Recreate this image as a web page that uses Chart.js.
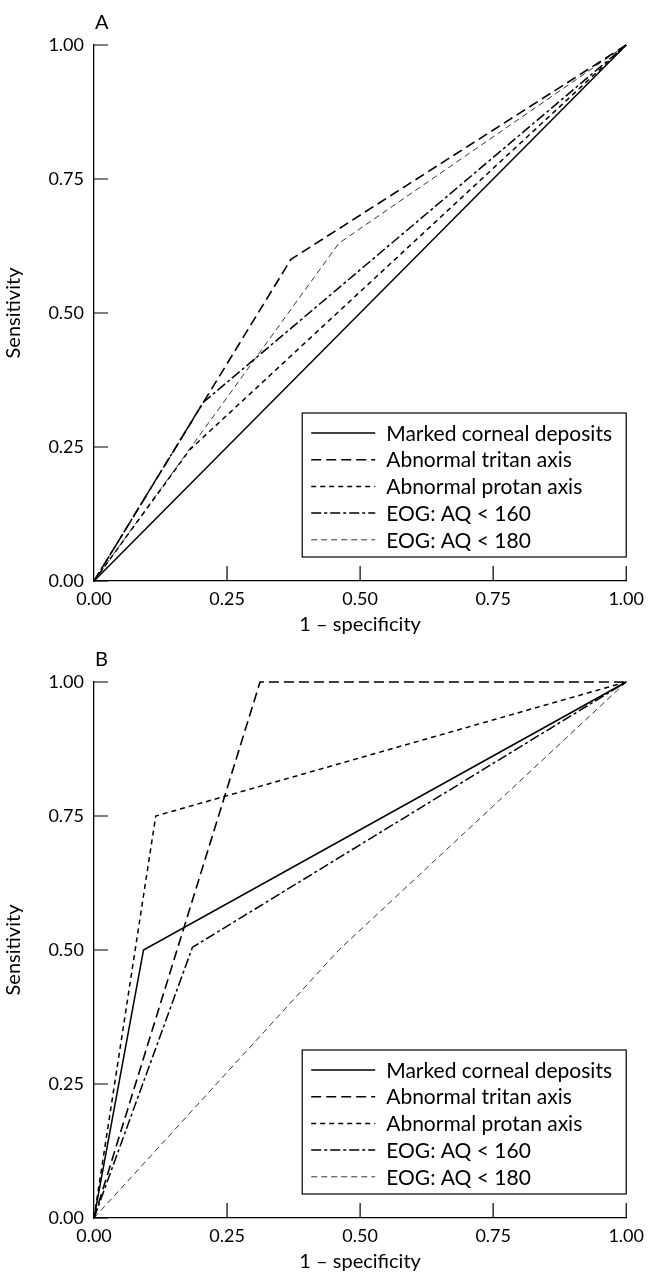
<!DOCTYPE html>
<html lang="en">
<head>
    <meta charset="UTF-8">
    <title>ROC curves</title>
    <script src="https://cdn.jsdelivr.net/npm/chart.js"></script>
    <style>
        body { margin: 0; background: #fff; }
        canvas { display: block; }
    </style>
</head>
<body>
<canvas id="chartA" width="651" height="637"></canvas>
<canvas id="chartB" width="651" height="637"></canvas>

<script>
    // series names and axis ticks
    var seriesLabels = ['Marked corneal deposits', 'Abnormal tritan axis', 'Abnormal protan axis', 'EOG: AQ < 160', 'EOG: AQ < 180'];
    var tickValues = [0, 0.25, 0.5, 0.75, 1];

    // panel A: 1 - specificity (x) and sensitivity (y)
    var cornealAx = [0, 1],            cornealAy = [0, 1];
    var tritanAx  = [0, 0.37, 1],      tritanAy  = [0, 0.60, 1];
    var protanAx  = [0, 0.18, 1],      protanAy  = [0, 0.245, 1];
    var eog160Ax  = [0, 0.205, 1],     eog160Ay  = [0, 0.333, 1];
    var eog180Ax  = [0, 0.46, 1],      eog180Ay  = [0, 0.63, 1];

    // panel B
    var cornealBx = [0, 0.093, 1],     cornealBy = [0, 0.50, 1];
    var tritanBx  = [0, 0.312, 1],     tritanBy  = [0, 1.0, 1];
    var protanBx  = [0, 0.116, 1],     protanBy  = [0, 0.75, 1];
    var eog160Bx  = [0, 0.185, 1],     eog160By  = [0, 0.505, 1];
    var eog180Bx  = [0, 0.46, 1],      eog180By  = [0, 0.50, 1];

    var FONT = 'Lato, "DejaVu Sans", sans-serif';

    // line look for each series
    var styles = [
        { w: 1.5, dash: [] },
        { w: 1.6, dash: [10, 5] },
        { w: 1.5, dash: [5, 4] },
        { w: 1.5, dash: [10, 3, 3, 3] },
        { w: 0.8, dash: [6, 4] }
    ];

    // ticks pointing into the plot area
    var innerTicks = {
        id: 'innerTicks',
        afterDraw: function(chart) {
            var c = chart.ctx, a = chart.chartArea;
            var xs = chart.scales.x, ys = chart.scales.y;
            c.save();
            c.strokeStyle = '#000';
            c.lineWidth = 1.2;
            c.beginPath();
            tickValues.forEach(function(v) {
                var py = ys.getPixelForValue(v);
                c.moveTo(a.left, py); c.lineTo(a.left + 14, py);
                var px = xs.getPixelForValue(v);
                if (v > 0) { c.moveTo(px, a.bottom); c.lineTo(px, a.bottom - 15); }
            });
            c.stroke();
            // panel letter
            c.fillStyle = '#000';
            c.font = '20px ' + FONT;
            c.textBaseline = 'alphabetic';
            c.fillText(chart.options.plugins.panelLetter, a.left + 1, a.top - 16);
            c.restore();
        }
    };

    // boxed legend in the lower right corner
    var boxLegend = {
        id: 'boxLegend',
        afterDraw: function(chart) {
            var c = chart.ctx, a = chart.chartArea;
            var w = 324, h = 144;
            var left = a.right - w, top = a.bottom - 24 - h;
            c.save();
            c.strokeStyle = '#000';
            c.lineWidth = 1.2;
            c.strokeRect(left, top, w, h);
            c.font = '21px ' + FONT;
            c.textBaseline = 'middle';
            c.fillStyle = '#000';
            chart.data.datasets.forEach(function(ds, i) {
                var y = top + 20 + i * 26.7;
                c.beginPath();
                c.lineWidth = ds.borderWidth;
                c.setLineDash(ds.borderDash);
                c.moveTo(left + 9, y); c.lineTo(left + 73, y);
                c.stroke();
                c.setLineDash([]);
                c.fillText(ds.label, left + 84, y + 1);
            });
            c.restore();
        }
    };

    function makeChart(id, letter, xs, ys) {
        var datasets = seriesLabels.map(function(label, i) {
            return {
                label: label,
                data: xs[i].map(function(x, j) { return { x: x, y: ys[i][j] }; }),
                borderColor: '#000',
                borderWidth: styles[i].w,
                borderDash: styles[i].dash,
                pointRadius: 0,
                fill: false,
                tension: 0,
                clip: false
            };
        });
        return new Chart(document.getElementById(id), {
            type: 'line',
            data: { datasets: datasets },
            options: {
                responsive: false,
                animation: false,
                layout: { padding: { top: 45, right: 23, left: 0, bottom: 0 } },
                plugins: { legend: { display: false }, tooltip: { enabled: false }, panelLetter: letter },
                scales: {
                    x: {
                        type: 'linear', min: 0, max: 1,
                        afterFit: function(s) { s.height = 56; },
                        afterBuildTicks: function(s) { s.ticks = tickValues.map(function(v) { return { value: v }; }); },
                        grid: { display: false, drawTicks: false },
                        border: { display: true, color: '#000', width: 1.3 },
                        ticks: { color: '#000', padding: 7, maxRotation: 0, font: { family: FONT, size: 18 },
                                 callback: function(v) { return v.toFixed(2); } },
                        title: { display: true, text: '1 \u2013 specificity', color: '#000', padding: { top: 0, bottom: 0 },
                                 font: { family: FONT, size: 20 } }
                    },
                    y: {
                        type: 'linear', min: 0, max: 1,
                        afterFit: function(s) { s.width = 94; },
                        afterBuildTicks: function(s) { s.ticks = tickValues.map(function(v) { return { value: v }; }); },
                        grid: { display: false, drawTicks: false },
                        border: { display: true, color: '#000', width: 1.3 },
                        ticks: { color: '#000', padding: 10, font: { family: FONT, size: 18 },
                                 callback: function(v) { return v.toFixed(2); } },
                        title: { display: true, text: 'Sensitivity', color: '#000', padding: { top: 2, bottom: 0 },
                                 font: { family: FONT, size: 20 } }
                    }
                }
            },
            plugins: [innerTicks, boxLegend]
        });
    }

    makeChart('chartA', 'A',
        [cornealAx, tritanAx, protanAx, eog160Ax, eog180Ax],
        [cornealAy, tritanAy, protanAy, eog160Ay, eog180Ay]);
    makeChart('chartB', 'B',
        [cornealBx, tritanBx, protanBx, eog160Bx, eog180Bx],
        [cornealBy, tritanBy, protanBy, eog160By, eog180By]);
</script>
</body>
</html>
